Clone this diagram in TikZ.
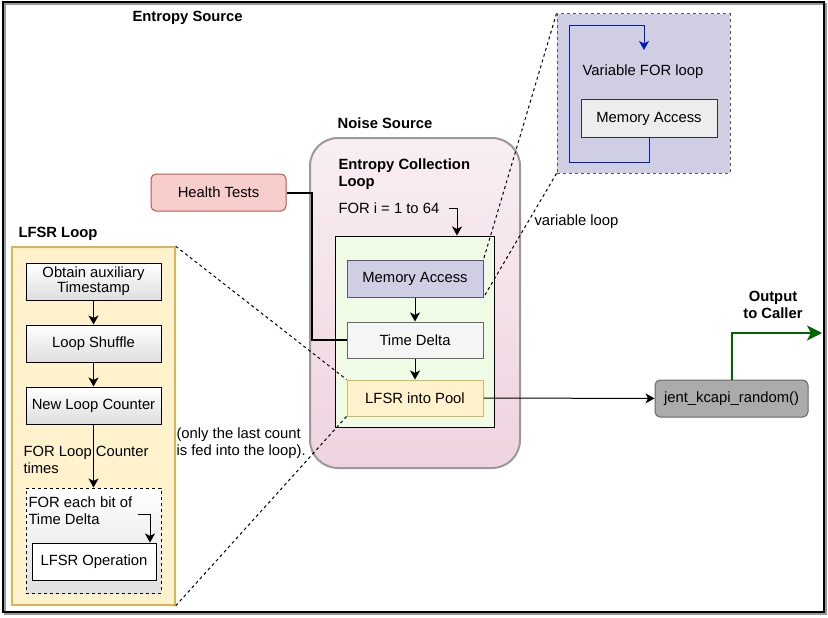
\documentclass[tikz,border=0pt]{standalone}
\usepackage{fontspec}
\setmainfont{Liberation Sans}
\usetikzlibrary{arrows.meta}
\definecolor{lavfill}{HTML}{D0CEE2}
\definecolor{lavline}{HTML}{56517E}
\definecolor{yelfill}{HTML}{FFF2CC}
\definecolor{yelline}{HTML}{D6B656}
\definecolor{redfill}{HTML}{F8CECC}
\definecolor{redline}{HTML}{B85450}
\definecolor{grnfill}{HTML}{F0FBE6}
\definecolor{pinktop}{HTML}{F8EEF3}
\definecolor{pinkbot}{HTML}{EFD3E0}
\definecolor{outgreen}{HTML}{006600}
\definecolor{loopblue}{HTML}{001DBC}
\begin{document}
\begin{tikzpicture}[x=1pt, y=-1pt, line width=1pt,
    font=\fontsize{14.8}{17}\selectfont,
    box/.style={draw, rectangle, minimum width=136pt, minimum height=37pt, inner sep=2pt, align=center},
    greybox/.style={box, top color=white, bottom color=black!13},
    lbl/.style={inner sep=0pt, align=left},
    head/.style={lbl, font=\fontsize{14.8}{17}\selectfont\bfseries},
    arr/.style={-{Stealth[length=9pt, width=10pt, inset=2.5pt]}},
    zoomline/.style={dashed, dash pattern=on 3pt off 3pt}]
  \useasboundingbox (0,0) rectangle (828,618);
  % outer frame
    \draw[black!40, line width=2pt] (5,4) rectangle (826,614);
    \draw[line width=2.5pt] (3,2) rectangle (824,612);
    \node[head, anchor=west] (srclbl) at (132,18) {Entropy Source};
  % noise source
    \node[draw=black!40, line width=2pt, rounded corners=28pt, top color=pinktop, bottom color=pinkbot,
      minimum width=210pt, minimum height=330pt] (noise) at (415,303) {};
    \node[head] (noiselbl) at (385,123) {Noise Source};
    \node[head, anchor=west] (colllbl) at (338,174) {Entropy Collection\\Loop};
    \node[lbl, anchor=west] (forlbl) at (338,208) {FOR i = 1 to 64};
    \node[draw, fill=grnfill, minimum width=159pt, minimum height=191pt] (collect) at (414.5,331.5) {};
    \node[box, fill=lavfill, draw=lavline] (memacc) at (415,278.5) {Memory Access};
    \node[box, fill=black!4, draw=black!60, minimum height=36pt] (tdelta) at (415,340) {Time Delta};
    \node[box, fill=yelfill, draw=yelline, minimum height=36pt] (lfsrpool) at (415,398) {LFSR into Pool};
    \draw[arr] ([xshift=9pt]forlbl.east) -| ([xshift=42.5pt]collect.north);
    \draw[arr] (memacc) -- (tdelta);
    \draw[arr] (tdelta) -- (lfsrpool);
  % health tests
    \node[box, rounded corners=5pt, fill=redfill, draw=redline, minimum width=135pt] (health) at (218.5,192.5) {Health Tests};
    \draw[line width=2pt] (health.east) -| ([xshift=-35pt]tdelta.west) -- (tdelta.west);
  % variable loop
    \node[draw=lavline, dashed, fill=lavfill, minimum width=173pt, minimum height=159pt] (varloop) at (643.5,93.5) {};
    \node[lbl] (varlbl) at (643,72) {Variable FOR loop};
    \node[box, fill=black!7, draw=black!80] (memacc2) at (649,118.5) {Memory Access};
    \coordinate (varin) at (644,50);
    \draw[loopblue, arr] (memacc2.south) -- ++(0,25) -| (569,26) -| (varin);
    \node[lbl, anchor=west] (varnote) at (534,222) {variable loop};
  % lfsr loop
    \node[head, anchor=west] (lfsrlbl) at (18,234) {LFSR Loop};
    \node[draw=yelline, line width=1.5pt, fill=yelfill, minimum width=163pt, minimum height=358pt] (lfsrloop) at (93.5,426) {};
    \node[greybox, minimum width=135pt] (obtain) at (93.5,281.5) {Obtain auxiliary\\[-2pt]Timestamp};
    \node[greybox, minimum width=135pt] (shuffle) at (93.5,343.5) {Loop Shuffle};
    \node[greybox, minimum width=135pt] (newcnt) at (93.5,405.5) {New Loop Counter};
    \node[lbl, anchor=west] (cntlbl) at (23,460) {FOR Loop Counter\\times};
    \node[draw, dashed, top color=white, bottom color=black!12, minimum width=135pt, minimum height=105pt] (bitloop) at (93.5,540.5) {};
    \node[lbl, anchor=west] (bitlbl) at (28,511) {FOR each bit of\\Time Delta};
    \node[box, fill=white, minimum width=124pt] (lfsrop) at (94,561.5) {LFSR Operation};
    \coordinate (bitin) at (138,514);
    \draw[arr] (obtain) -- (shuffle);
    \draw[arr] (shuffle) -- (newcnt);
    \draw[arr] (newcnt) -- (bitloop);
    \draw[arr] (bitin) -| ([xshift=56pt]lfsrop.north);
    \node[lbl, anchor=west] (lastlbl) at (176,443) {(only the last count\\is fed into the loop).};
  % zoom lines
    \draw[zoomline] (varloop.north west) -- (memacc.north east);
    \draw[zoomline] (varloop.south west) -- (memacc.south east);
    \draw[zoomline] (lfsrloop.north east) -- (lfsrpool.north west);
    \draw[zoomline] (lfsrloop.south east) -- (lfsrpool.south west);
  % output
    \node[box, rounded corners=5pt, fill=black!33, draw=black!60, minimum width=153pt] (kcapi) at (731.5,398.5) {jent\_kcapi\_random()};
    \draw[arr] (lfsrpool) -- (kcapi);
    \coordinate (caller) at (822,333);
    \draw[outgreen, line width=2pt, -{Stealth[length=15pt, width=15pt, inset=4pt]}] (kcapi.north) |- (caller);
    \node[head, align=center] (outlbl) at (773,305) {Output\\to Caller};
\end{tikzpicture}
\end{document}
